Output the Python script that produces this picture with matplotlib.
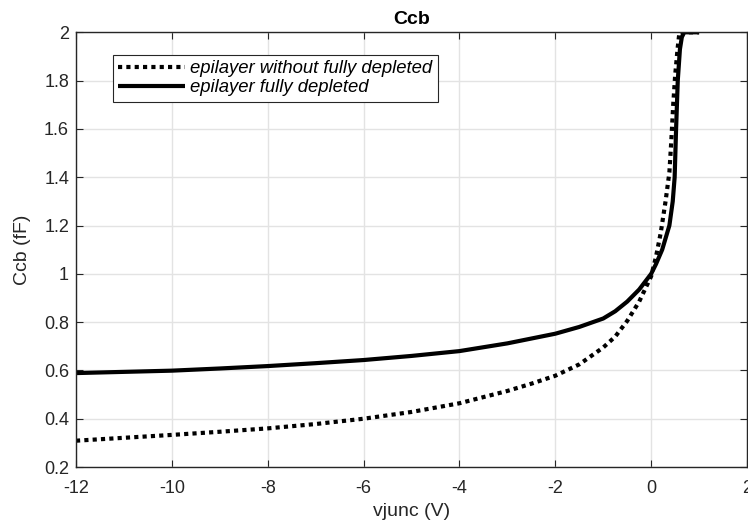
import numpy as np
import matplotlib.pyplot as plt

plt.rcParams['font.family'] = ['Liberation Sans', 'DejaVu Sans']

# values
vjunc_dep = [-12, -11, -10, -9, -8, -7, -6, -5, -4, -3, -2.5, -2, -1.5, -1,
             -0.75, -0.5, -0.25, 0, 0.1, 0.2, 0.3, 0.38, 0.42, 0.46, 0.5,
             0.55, 0.59, 0.7, 0.85, 1.0]
ccb_dep = [0.309, 0.321, 0.333, 0.346, 0.360, 0.378, 0.400, 0.428, 0.464,
           0.515, 0.545, 0.578, 0.625, 0.695, 0.74, 0.805, 0.885, 0.99,
           1.07, 1.17, 1.30, 1.42, 1.55, 1.70, 1.82, 1.93, 2.0, 2.0, 2.0, 2.0]

vjunc_full = [-12, -11, -10, -9, -8, -7, -6, -5, -4, -3, -2, -1.5, -1,
              -0.75, -0.5, -0.25, 0, 0.1, 0.23, 0.38, 0.45, 0.49, 0.52,
              0.555, 0.6, 0.64, 0.69, 0.8, 1.0]
ccb_full = [0.589, 0.594, 0.599, 0.608, 0.618, 0.630, 0.643, 0.660, 0.680,
            0.712, 0.752, 0.78, 0.815, 0.845, 0.885, 0.935, 1.0, 1.04, 1.1,
            1.2, 1.3, 1.4, 1.6, 1.8, 1.93, 1.98, 2.0, 2.0, 2.0]

lbl = ['epilayer without fully depleted', 'epilayer fully depleted']
xticks = [-12, -10, -8, -6, -4, -2, 0, 2]
yticks = [0.2, 0.4, 0.6, 0.8, 1, 1.2, 1.4, 1.6, 1.8, 2]

fig = plt.figure(figsize=(7.48, 5.21), dpi=100)
ax = fig.add_axes([0.1016, 0.1036, 0.8971, 0.8344])

ax.plot(vjunc_dep, ccb_dep, color='black', lw=3, linestyle=(0, (1, 1)),
        dash_capstyle='butt', label=lbl[0])
ax.plot(vjunc_full, ccb_full, color='black', lw=3, solid_capstyle='butt',
        label=lbl[1])

ax.set_xlim(-12, 2)
ax.set_ylim(0.2, 2)
ax.set_xticks(xticks)
ax.set_xticklabels([str(t) for t in xticks])
ax.set_yticks(yticks)
ax.set_yticklabels(['0.2', '0.4', '0.6', '0.8', '1', '1.2', '1.4', '1.6', '1.8', '2'])
ax.grid(True, color='#e3e3e3', lw=1)
ax.set_axisbelow(True)
ax.tick_params(direction='in', length=5, width=0.8, top=True, right=True,
               labelsize=13, colors='#262626')
ax.tick_params(axis='x', pad=9)
ax.tick_params(axis='y', pad=5)
for s in ax.spines.values():
    s.set_color('#262626')
    s.set_linewidth(1)

ax.set_title('Ccb', fontsize=14, fontweight='bold', pad=6)
ax.set_xlabel('vjunc (V)', fontsize=14, color='#262626', labelpad=5)
ax.set_ylabel('Ccb (fF)', fontsize=14, color='#262626', labelpad=9)

leg = ax.legend(loc='upper left', bbox_to_anchor=(0.055, 0.948),
                prop={'style': 'italic', 'size': 13.3}, fancybox=False,
                edgecolor='#262626', framealpha=1, borderpad=0.3,
                labelspacing=0.1, handlelength=3.6, handletextpad=0.3,
                borderaxespad=0)
leg.get_frame().set_linewidth(0.8)

plt.savefig('out.png', dpi=100)
